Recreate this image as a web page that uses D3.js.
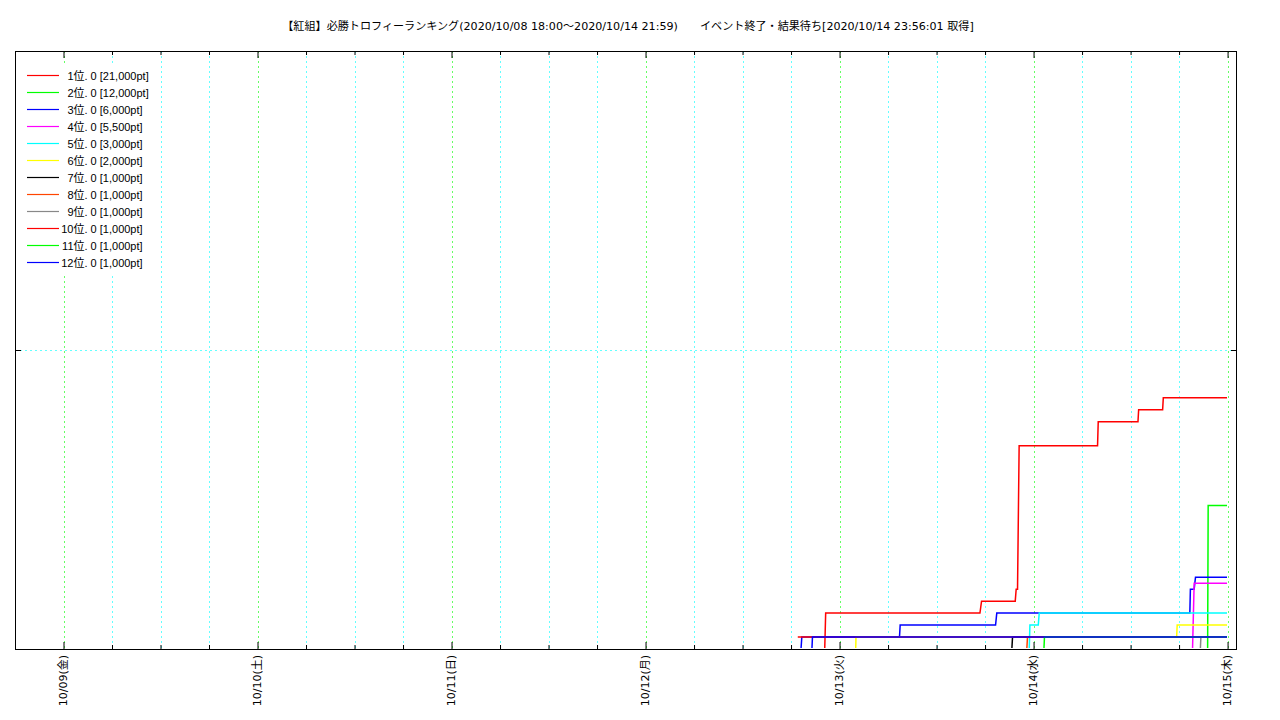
<!DOCTYPE html>
<html><head><meta charset="utf-8">
<script src="https://cdn.jsdelivr.net/npm/d3@7"></script>
<style>
html,body{margin:0;padding:0;background:#fff;}
svg{display:block;}
text{font-family:"DejaVu Sans","Noto Sans CJK JP",sans-serif;font-size:11px;fill:#000;}
text.title{font-size:11.1px;}
text.leg{font-family:"Liberation Sans","Noto Sans CJK JP",sans-serif;font-size:11px;}
</style></head>
<body>
<svg id="chart" width="1280" height="720"></svg>
<script>
// ---- data ----
const titleText = "【紅組】必勝トロフィーランキング(2020/10/08 18:00～2020/10/14 21:59)　　イベント終了・結果待ち[2020/10/14 23:56:01 取得]";
const ranks = [1,2,3,4,5,6,7,8,9,10,11,12];
const finalPoints = [21000,12000,6000,5500,3000,2000,1000,1000,1000,1000,1000,1000];
const seriesColors = ["#ff0000","#00ff00","#0000ff","#ff00ff","#00ffff","#ffff00","#000000","#ff4500","#888888","#ff0000","#00ff00","#0000ff"];
const dayLabels = ["10/09(金)","10/10(土)","10/11(日)","10/12(月)","10/13(火)","10/14(水)","10/15(木)"];
const xDomain = ["2020-10-08 18:00","2020-10-15 01:10"];
const yDomain = [0, 50000];
const yTicks = [25000];

const s1 = [["2020-10-12 18:50",0],["2020-10-12 22:10",0],["2020-10-12 22:17",3000],["2020-10-13 17:22",3000],["2020-10-13 17:34",4000],["2020-10-13 21:44",4000],["2020-10-13 21:51",5000],["2020-10-13 22:01",5000],["2020-10-13 22:13",17000],["2020-10-14 07:55",17000],["2020-10-14 08:00",19000],["2020-10-14 12:55",19000],["2020-10-14 13:00",20000],["2020-10-14 15:58",20000],["2020-10-14 16:03",21000],["2020-10-14 23:56",21000]];
const s2 = [["2020-10-12 18:50",0],["2020-10-14 21:32",0],["2020-10-14 21:36",12000],["2020-10-14 23:56",12000]];
const s3 = [["2020-10-12 18:50",0],["2020-10-12 19:14",0],["2020-10-12 19:20",1000],["2020-10-13 07:25",1000],["2020-10-13 07:30",2000],["2020-10-13 19:18",2000],["2020-10-13 19:27",3000],["2020-10-14 19:20",3000],["2020-10-14 19:24",5000],["2020-10-14 19:52",5000],["2020-10-14 20:02",6000],["2020-10-14 23:56",6000]];
const s4 = [["2020-10-12 18:50",0],["2020-10-14 19:40",0],["2020-10-14 19:52",5500],["2020-10-14 23:56",5500]];
const s5 = [["2020-10-12 18:50",0],["2020-10-13 23:28",0],["2020-10-13 23:33",2000],["2020-10-14 00:35",2000],["2020-10-14 00:42",3000],["2020-10-14 23:56",3000]];
const s6 = [["2020-10-12 18:50",0],["2020-10-13 02:00",0],["2020-10-13 02:02",1000],["2020-10-14 17:42",1000],["2020-10-14 17:46",2000],["2020-10-14 23:56",2000]];
const s7 = [["2020-10-12 18:50",0],["2020-10-13 21:19",0],["2020-10-13 21:24",1000],["2020-10-14 23:56",1000]];
const s8 = [["2020-10-12 18:50",0],["2020-10-13 23:10",0],["2020-10-13 23:15",1000],["2020-10-14 23:56",1000]];
const s9 = [["2020-10-12 18:50",0],["2020-10-14 20:38",0],["2020-10-14 20:42",1000],["2020-10-14 23:56",1000]];
const s10 = [["2020-10-12 18:50",1000],["2020-10-14 23:56",1000]];
const s11 = [["2020-10-12 18:50",0],["2020-10-14 01:17",0],["2020-10-14 01:21",1000],["2020-10-14 23:56",1000]];
const s12 = [["2020-10-12 18:50",0],["2020-10-12 20:35",0],["2020-10-12 20:39",1000],["2020-10-14 23:56",1000]];
const allSeries = [s1,s2,s3,s4,s5,s6,s7,s8,s9,s10,s11,s12];

// ---- layout ----
const L = 15, R = 1237, T = 51, B = 649;
const parse = d3.timeParse("%Y-%m-%d %H:%M");
const svg = d3.select("#chart");
const x = d3.scaleTime().domain(xDomain.map(parse)).range([L, R]);
const y = d3.scaleLinear().domain(yDomain).range([B, T]);

// title
svg.append("text").attr("class","title").attr("x", (L+R)/2 + 2).attr("y", 30).attr("text-anchor","middle").text(titleText);

// grid
const majorTicks = x.ticks(d3.timeDay.every(1));
const minorTicks = x.ticks(d3.timeHour.every(6)).filter(d => d.getHours() !== 0);
const grid = svg.append("g").attr("opacity",0.6);
grid.selectAll(".gmin").data(minorTicks).join("line")
  .attr("x1", d => Math.round(x(d))+0.5).attr("x2", d => Math.round(x(d))+0.5)
  .attr("y1", T).attr("y2", B).attr("stroke","#00ffff").attr("stroke-width",1).attr("stroke-dasharray","2,3");
grid.selectAll(".gmaj").data(majorTicks).join("line")
  .attr("x1", d => Math.round(x(d))+0.5).attr("x2", d => Math.round(x(d))+0.5)
  .attr("y1", T).attr("y2", B).attr("stroke","#00ff00").attr("stroke-width",1).attr("stroke-dasharray","2,3");
grid.selectAll(".gy").data(yTicks).join("line")
  .attr("x1", L).attr("x2", R).attr("y1", d => Math.round(y(d))+0.5).attr("y2", d => Math.round(y(d))+0.5)
  .attr("stroke","#00ffff").attr("stroke-width",1).attr("stroke-dasharray","2,3");

// legend background (opaque key)
svg.append("rect").attr("x",20).attr("y",66).attr("width",136).attr("height",208).attr("fill","#fff");

// lines
svg.append("clipPath").attr("id","clip").append("rect").attr("x",L).attr("y",T).attr("width",R-L).attr("height",B-T-1);
const line = d3.line().x(d => x(parse(d[0]))).y(d => y(d[1]));
svg.append("g").attr("clip-path","url(#clip)").selectAll("path").data(allSeries).join("path")
  .attr("d", line).attr("fill","none").attr("stroke",(d,i)=>seriesColors[i]).attr("stroke-width",1.5);

// legend
const fmt = d3.format(",");
const leg = svg.append("g");
ranks.forEach((r,i) => {
  const yy = 75.5 + 17*i;
  leg.append("line").attr("x1",27).attr("x2",59).attr("y1",yy).attr("y2",yy).attr("stroke",seriesColors[i]).attr("stroke-width",1.2);
  leg.append("text").attr("class","leg").attr("x",73.5).attr("y",yy+4).attr("text-anchor","end").text(r);
  leg.append("text").attr("class","leg").attr("x",73.5).attr("y",yy+4).text("位. 0 [" + fmt(finalPoints[i]) + "pt]");
});

// axes (ticks inward)
const axB = svg.append("g").attr("transform",`translate(0,${B})`);
axB.call(d3.axisBottom(x).tickValues(majorTicks).tickSize(-7).tickFormat(""));
const axBm = svg.append("g").attr("transform",`translate(0,${B})`);
axBm.call(d3.axisBottom(x).tickValues(minorTicks).tickSize(-4).tickFormat(""));
const axT = svg.append("g").attr("transform",`translate(0,${T})`);
axT.call(d3.axisTop(x).tickValues(majorTicks).tickSize(-7).tickFormat(""));
const axTm = svg.append("g").attr("transform",`translate(0,${T})`);
axTm.call(d3.axisTop(x).tickValues(minorTicks).tickSize(-4).tickFormat(""));
const axL = svg.append("g").attr("transform",`translate(${L},0)`);
axL.call(d3.axisLeft(y).tickValues(yTicks).tickSize(-6).tickFormat(""));
const axR = svg.append("g").attr("transform",`translate(${R},0)`);
axR.call(d3.axisRight(y).tickValues(yTicks).tickSize(-6).tickFormat(""));
svg.selectAll(".domain").remove();
svg.selectAll(".tick line").attr("stroke","#000");

// border
svg.append("rect").attr("x",L+0.5).attr("y",T+0.5).attr("width",R-L-1).attr("height",B-T).attr("fill","none").attr("stroke","#000").attr("stroke-width",1);

// day labels
svg.append("g").selectAll("text").data(majorTicks).join("text")
  .attr("transform", d => `translate(${x(d)},655) rotate(-90)`)
  .attr("text-anchor","end").attr("dy","0.35em")
  .text((d,i) => dayLabels[i]);
</script>
</body></html>
